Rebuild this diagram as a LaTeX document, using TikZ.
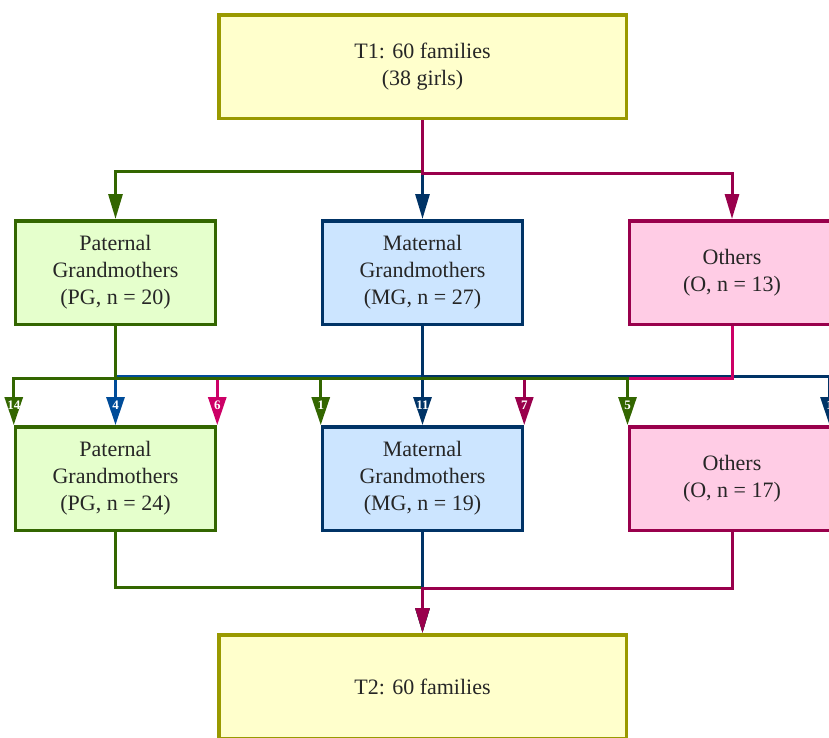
\documentclass[tikz,border=0pt]{standalone}
\usepackage{fontspec}
\setmainfont{Liberation Serif}
\usetikzlibrary{arrows.meta}
\definecolor{yfill}{HTML}{FFFFCC}
\definecolor{ydraw}{HTML}{999900}
\definecolor{gfill}{HTML}{E5FFCC}
\definecolor{gdraw}{HTML}{336600}
\definecolor{bfill}{HTML}{CCE5FF}
\definecolor{bdraw}{HTML}{003366}
\definecolor{blite}{HTML}{004C99}
\definecolor{pfill}{HTML}{FFCCE5}
\definecolor{pdraw}{HTML}{99004C}
\definecolor{plite}{HTML}{CC0066}
\begin{document}
\begin{tikzpicture}[x=1pt,y=-1pt,
    box/.style={draw, line width=3.5pt, minimum width=200pt, minimum height=103.5pt,
      align=center, inner sep=0pt, text=black!85, font=\fontsize{22}{27}\selectfont},
    ybox/.style={box, fill=yfill, draw=ydraw, minimum width=407.5pt},
    gbox/.style={box, fill=gfill, draw=gdraw},
    bbox/.style={box, fill=bfill, draw=bdraw},
    pbox/.style={box, fill=pfill, draw=pdraw},
    link/.style={line width=3pt, -{Triangle[length=25pt,width=14pt]}},
    numlink/.style={line width=3pt, -{Triangle[length=28pt,width=18pt]}},
    numlbl/.style={text=white, inner sep=0pt, font=\bfseries\fontsize{13}{13}\selectfont}]
  \useasboundingbox (0,0) rectangle (829,738);

  \node[ybox] (t1) at (422.5,67) {T1: 60 families\\(38 girls)};
  \node[gbox] (pg1) at (115.5,272.5) {Paternal\\Grandmothers\\(PG, n = 20)};
  \node[bbox] (mg1) at (422.5,272.5) {Maternal\\Grandmothers\\(MG, n = 27)};
  \node[pbox, minimum width=205.5pt] (o1) at (732,272.5) {Others\\(O, n = 13)};
  \node[gbox] (pg2) at (115.5,478.5) {Paternal\\Grandmothers\\(PG, n = 24)};
  \node[bbox] (mg2) at (422.5,478.5) {Maternal\\Grandmothers\\(MG, n = 19)};
  \node[pbox, minimum width=205.5pt] (o2) at (732,478.5) {Others\\(O, n = 17)};
  \node[ybox] (t2) at (422.5,686.5) {T2: 60 families};
  \coordinate (o2r) at ([xshift=-7pt]o2.north east);

  \draw[link, gdraw] (t1.south) -- ++(0,51.5) -| (pg1.north);
  \draw[link, bdraw] (t1.south) -- (mg1.north);
  \draw[link, pdraw] (t1.south) -- ++(0,53.5) -| (o1.north);

  \draw[numlink, blite] (mg1.south) -- ++(0,50) -| (pg2.north);
  \draw[numlink, bdraw] (mg1.south) -- ++(0,50) -| (o2r);
  \draw[numlink, bdraw] (mg1.south) -- (mg2.north);
  \draw[numlink, pdraw] (o1.south) -- ++(0,52) -| (mg2.north east);
  \draw[numlink, plite] (o1.south) -- ++(0,52) -| (pg2.north east);
  \draw[numlink, gdraw] (pg1.south) -- ++(0,52) -| (o2.north west);
  \draw[numlink, gdraw] (pg1.south) -- ++(0,52) -| (mg2.north west);
  \draw[numlink, gdraw] (pg1.south) -- ++(0,52) -| (pg2.north west);

  \node[numlbl] (l14) at ([yshift=20pt]pg2.north west) {14};
  \node[numlbl] (l4) at ([yshift=20pt]pg2.north) {4};
  \node[numlbl] (l6) at ([yshift=20pt]pg2.north east) {6};
  \node[numlbl] (l1) at ([yshift=20pt]mg2.north west) {1};
  \node[numlbl] (l11) at ([yshift=20pt]mg2.north) {11};
  \node[numlbl] (l7) at ([yshift=20pt]mg2.north east) {7};
  \node[numlbl] (l5) at ([yshift=20pt]o2.north west) {5};
  \node[numlbl] (l1r) at ([yshift=20pt]o2r) {1};

  \draw[link, gdraw] (pg2.south) -- ++(0,55) -| (t2.north);
  \draw[link, bdraw] (mg2.south) -- (t2.north);
  \draw[link, pdraw] (o2.south) -- ++(0,56) -| (t2.north);
\end{tikzpicture}
\end{document}
